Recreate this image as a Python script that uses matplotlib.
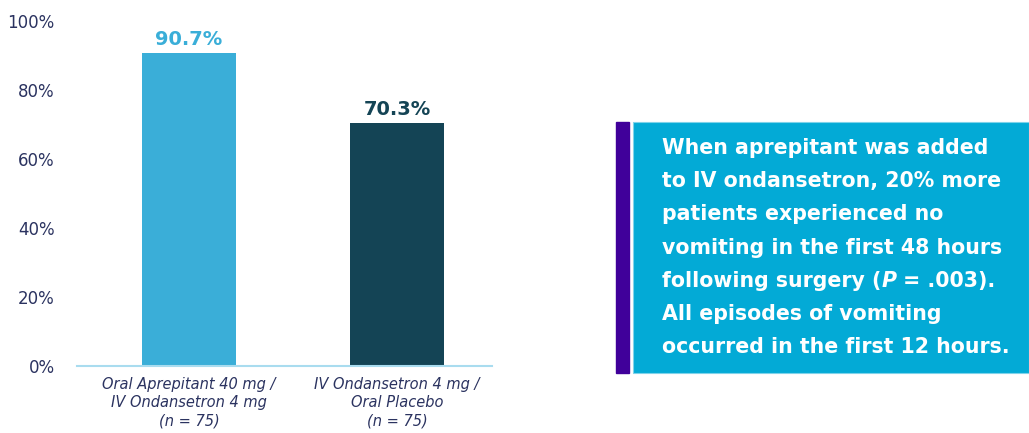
import matplotlib.pyplot as plt
from matplotlib.patches import Rectangle

# ---------------- Data ---------------- #
groups = ['Oral Aprepitant 40 mg /\nIV Ondansetron 4 mg\n(n = 75)',
          'IV Ondansetron 4 mg /\nOral Placebo\n(n = 75)']
no_vomiting = [90.7, 70.3]
bar_colors = ['#3aaed8', '#144455']
yticks = [0, 20, 40, 60, 80, 100]

callout_lines = ['When aprepitant was added',
                 'to IV ondansetron, 20% more',
                 'patients experienced no',
                 'vomiting in the first 48 hours',
                 None,  # line with italic P, drawn in pieces
                 'All episodes of vomiting',
                 'occurred in the first 12 hours.']

navy = '#2b3360'
plt.rcParams['font.family'] = ['DejaVu Sans']

fig = plt.figure(figsize=(10.29, 4.33), dpi=100)

# ---------------- Bar chart ---------------- #
ax = fig.add_axes([77 / 1029, 67 / 433, 415 / 1029, 345 / 433])
x = range(len(no_vomiting))
ax.bar(x, no_vomiting, width=0.452, color=bar_colors, zorder=2)
for xi, v, c in zip(x, no_vomiting, bar_colors):
    ax.text(xi, v + 1.2, f'{v:.1f}%', ha='center', va='bottom',
            fontsize=14, fontweight='bold', color=c)

ax.set_xlim(-0.538, 1.457)
ax.set_ylim(0, 100)
ax.set_yticks(yticks)
ax.set_yticklabels([f'{t}%' for t in yticks], fontsize=12, color=navy)
ax.set_xticks(list(x))
ax.set_xticklabels(groups, fontsize=10.5, style='italic', color=navy,
                   linespacing=1.25)
ax.tick_params(axis='both', length=0)
ax.tick_params(axis='y', pad=16)
ax.tick_params(axis='x', pad=8)
for s in ['top', 'right', 'left']:
    ax.spines[s].set_visible(False)
ax.spines['bottom'].set_color('#a9dcef')
ax.spines['bottom'].set_linewidth(1.5)

# ---------------- Callout box (pixel coordinates) ---------------- #
ov = fig.add_axes([0, 0, 1, 1])
ov.set_xlim(0, 1029)
ov.set_ylim(433, 0)
ov.axis('off')
ov.add_patch(Rectangle((616, 122), 13, 251, color='#40009a'))
ov.add_patch(Rectangle((633, 122), 396, 251, facecolor='#03aad6',
                       edgecolor='#7fd3ea', linewidth=0.8))

y0, dy = 148, 33.2
txt_kw = dict(fontsize=14.8, fontweight='bold', color='white', va='center')
for i, line in enumerate(callout_lines):
    y = y0 + i * dy
    if line is not None:
        ov.text(662, y, line, ha='left', **txt_kw)
    else:
        t1 = ov.text(662, y, 'following surgery (', ha='left', **txt_kw)
        t2 = ov.annotate('P', xy=(1, 0.5), xycoords=t1, ha='left',
                         style='italic', **txt_kw)
        ov.annotate(' = .003).', xy=(1, 0.5), xycoords=t2, ha='left',
                    **txt_kw)

fig.savefig('out.png', dpi=100)
